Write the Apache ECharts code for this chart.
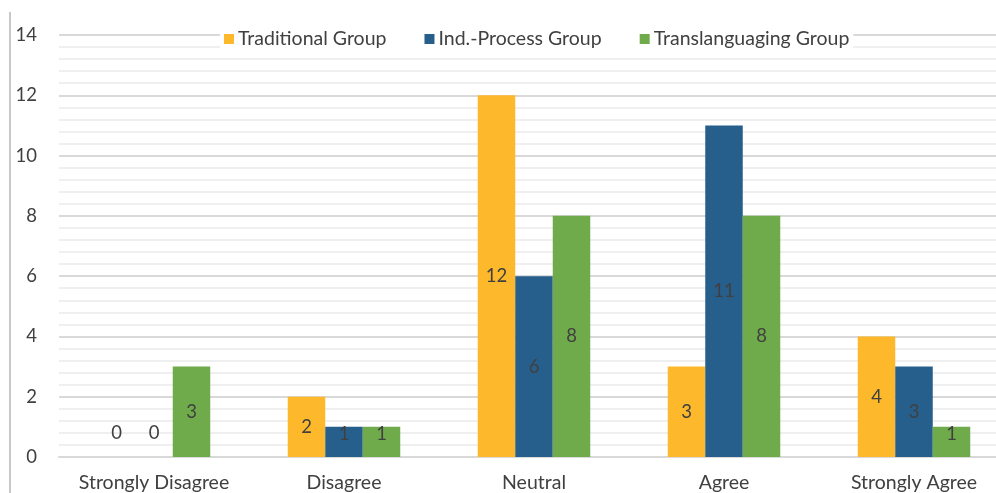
<!DOCTYPE html>
<html>
<head>
<meta charset="utf-8">
<script src="https://cdn.jsdelivr.net/npm/echarts@6/dist/echarts.min.js"></script>
<style>html,body{margin:0;padding:0;background:#fff}#c{width:996px;height:493px}</style>
</head>
<body>
<div id="c"></div>
<script>
const categories = ['Strongly Disagree', 'Disagree', 'Neutral', 'Agree', 'Strongly Agree'];
const seriesNames = ['Traditional Group', 'Ind.-Process Group', 'Translanguaging Group'];
const traditional = [0, 2, 12, 3, 4];
const indProcess = [0, 1, 6, 11, 3];
const translanguaging = [3, 1, 8, 8, 1];
const colors = ['#FDB92B', '#265E8C', '#70AB4B'];

const FONT = 'Lato, "Open Sans", sans-serif';
const chart = echarts.init(document.getElementById('c'));

function mk(name, vals, color) {
  return {
    name: name,
    type: 'bar',
    barWidth: 37.5,
    barGap: '0%',
    itemStyle: { color: color },
    data: vals.map(v => ({
      value: v,
      label: { offset: [0, v === 0 ? -24 : (v === 1 ? -8 : 0)] }
    })),
    label: {
      show: true,
      position: 'inside',
      color: '#404040',
      fontSize: 18.5,
      fontFamily: FONT
    }
  };
}

chart.setOption({
  animation: false,
  backgroundColor: '#fff',
  color: colors,
  grid: { left: 59, width: 950, top: 35, bottom: 36, containLabel: false, outerBoundsMode: 'none' },
  legend: {
    top: 27,
    left: 220,
    itemWidth: 10,
    itemHeight: 10,
    itemGap: 38,
    icon: 'rect',
    backgroundColor: '#fff',
    padding: [2, 4],
    textStyle: { color: '#404040', fontSize: 19.5, fontFamily: FONT, padding: [0, 0, 0, -1] },
    data: seriesNames
  },
  xAxis: {
    type: 'category',
    data: categories,
    axisLine: { show: true, lineStyle: { color: '#d9d9d9', width: 2 } },
    axisTick: { show: false },
    axisLabel: { color: '#404040', fontSize: 19.5, fontFamily: FONT, margin: 16, interval: 0, hideOverlap: false }
  },
  yAxis: {
    type: 'value',
    min: 0, max: 14, interval: 2,
    axisLine: { show: false },
    axisTick: { show: false },
    axisLabel: { color: '#404040', fontSize: 18.5, fontFamily: FONT, margin: 22 },
    splitLine: { show: true, lineStyle: { color: '#d9d9d9', width: 2 } },
    minorTick: { show: false, splitNumber: 5 },
    minorSplitLine: { show: true, lineStyle: { color: '#efefef', width: 2 } }
  },
  graphic: [{
    type: 'line',
    shape: { x1: 10, y1: 12, x2: 10, y2: 493 },
    style: { stroke: '#c8c8c8', lineWidth: 2 }
  }],
  series: [
    mk(seriesNames[0], traditional, colors[0]),
    mk(seriesNames[1], indProcess, colors[1]),
    mk(seriesNames[2], translanguaging, colors[2])
  ]
});
</script>
</body>
</html>
